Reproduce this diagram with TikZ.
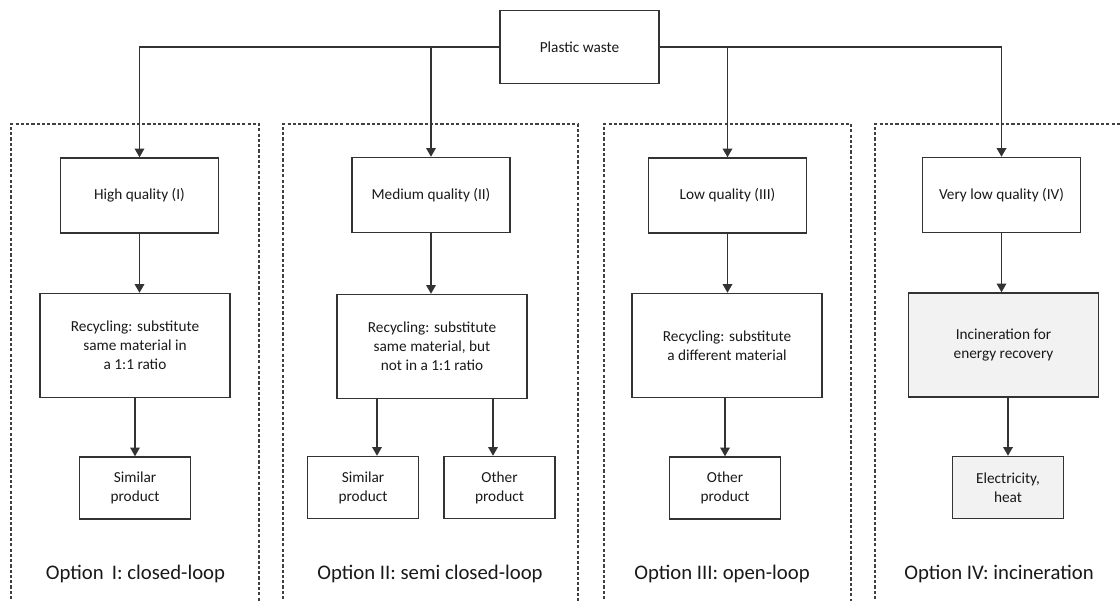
\documentclass[tikz,border=0pt]{standalone}
\usepackage{fontspec}
\setmainfont{Carlito}
\usetikzlibrary{arrows.meta}

\begin{document}
\begin{tikzpicture}[
    caja/.style={draw=black!80, line width=0.8pt, align=center, text=black!90, font=\fontsize{8.7}{10.8}\selectfont},
    calidad/.style={caja, minimum width=3.16cm, minimum height=1.5cm},
    proceso/.style={caja, minimum width=3.8cm, minimum height=2.08cm},
    producto/.style={caja, minimum width=2.22cm, minimum height=1.24cm},
    opcion/.style={draw=black!75, line width=0.6pt, dash pattern=on 1.8pt off 1.2pt},
    etiqueta/.style={font=\fontsize{11.8}{14}\selectfont, text=black!90},
    flecha/.style={draw=black!80, line width=0.8pt, -{Triangle[width=5.5pt,length=5pt]}}
  ]
    % Marco
    \useasboundingbox (0,0) rectangle (22.4,-12.02);
    \clip (0,0) rectangle (22.4,-12.02);

    % Cajas punteadas de las opciones
    \draw[opcion] (0.22,-12.3) -- (0.22,-2.48) -- (5.18,-2.48) -- (5.18,-12.3);
    \draw[opcion] (5.66,-12.3) -- (5.66,-2.48) -- (11.56,-2.48) -- (11.56,-12.3);
    \draw[opcion] (12.08,-12.3) -- (12.08,-2.48) -- (17.02,-2.48) -- (17.02,-12.3);
    \draw[opcion] (17.5,-12.3) -- (17.5,-2.48) -- (22.7,-2.48);

    % Origen
    \node[caja, minimum width=3.18cm, minimum height=1.46cm] (pw) at (11.59,-0.94) {Plastic waste};

    % Calidades
    \node[calidad] (q1) at (2.79,-3.91) {High quality (I)};
    \node[calidad] (q2) at (8.62,-3.9) {Medium quality (II)};
    \node[calidad] (q3) at (14.55,-3.91) {Low quality (III)};
    \node[calidad] (q4) at (20.03,-3.9) {Very low quality (IV)};

    % Procesos
    \node[proceso] (r1) at (2.7,-6.91) {Recycling: substitute\\same material in\\a 1:1 ratio};
    \node[proceso] (r2) at (8.64,-6.93) {Recycling: substitute\\same material, but\\not in a 1:1 ratio};
    \node[proceso] (r3) at (14.54,-6.91) {Recycling: substitute\\a different material};
    \node[proceso, fill=black!5] (r4) at (20.07,-6.9) {Incineration for\\energy recovery};

    % Productos
    \node[producto] (p1) at (2.7,-9.76) {Similar\\product};
    \node[producto] (p2a) at (7.26,-9.75) {Similar\\product};
    \node[producto] (p2b) at (9.99,-9.75) {Other\\product};
    \node[producto] (p3) at (14.5,-9.76) {Other\\product};
    \node[producto, fill=black!5] (p4) at (20.16,-9.75) {Electricity,\\heat};

    % Ramas desde el origen
    \draw[flecha] (pw.west) -| (q1.north);
    \draw[flecha] (pw.west) -| (q2.north);
    \draw[flecha] (pw.east) -| (q3.north);
    \draw[flecha] (pw.east) -| (q4.north);

    % Flechas verticales
    \foreach \i in {1,2,3,4} {
      \draw[flecha] (q\i.south) -- (q\i.south |- r\i.north);
    }
    \draw[flecha] (p1.north |- r1.south) -- (p1.north);
    \draw[flecha] ([xshift=0.28cm]p2a.north |- r2.south) -- ([xshift=0.28cm]p2a.north);
    \draw[flecha] ([xshift=-0.13cm]p2b.north |- r2.south) -- ([xshift=-0.13cm]p2b.north);
    \draw[flecha] (p3.north |- r3.south) -- (p3.north);
    \draw[flecha] (p4.north |- r4.south) -- (p4.north);

    % Etiquetas de las opciones
    \node[etiqueta] (o1) at (2.71,-11.48) {Option\, I: closed-loop};
    \node[etiqueta] (o2) at (8.6,-11.48) {Option II: semi closed-loop};
    \node[etiqueta] (o3) at (14.44,-11.48) {Option III: open-loop};
    \node[etiqueta] (o4) at (19.98,-11.48) {Option IV: incineration};
\end{tikzpicture}
\end{document}
